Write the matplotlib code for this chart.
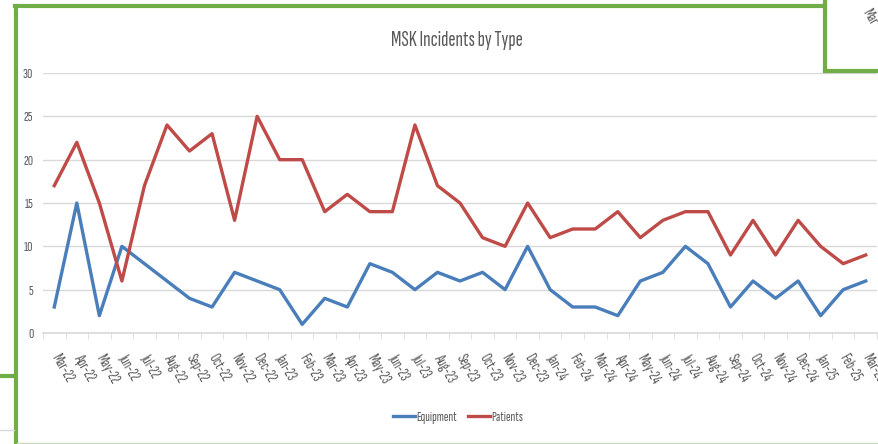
import matplotlib
matplotlib.use("Agg")
from matplotlib import pyplot as plt
from matplotlib.lines import Line2D

plt.rcParams['font.family'] = ['Sofia Sans Extra Condensed', 'Carlito', 'DejaVu Sans']

months = ["Mar-22", "Apr-22", "May-22", "Jun-22", "Jul-22", "Aug-22", "Sep-22",
          "Oct-22", "Nov-22", "Dec-22", "Jan-23", "Feb-23", "Mar-23", "Apr-23",
          "May-23", "Jun-23", "Jul-23", "Aug-23", "Sep-23", "Oct-23", "Nov-23",
          "Dec-23", "Jan-24", "Feb-24", "Mar-24", "Apr-24", "May-24", "Jun-24",
          "Jul-24", "Aug-24", "Sep-24", "Oct-24", "Nov-24", "Dec-24", "Jan-25",
          "Feb-25", "Mar-25"]
equipment = [3, 15, 2, 10, 8, 6, 4, 3, 7, 6, 5, 1, 4, 3, 8, 7, 5, 7, 6, 7, 5,
             10, 5, 3, 3, 2, 6, 7, 10, 8, 3, 6, 4, 6, 2, 5, 6]
patients = [17, 22, 15, 6, 17, 24, 21, 23, 13, 25, 20, 20, 14, 16, 14, 14, 24,
            17, 15, 11, 10, 15, 11, 12, 12, 14, 11, 13, 14, 14, 9, 13, 9, 13,
            10, 8, 9]

W, H = 879, 444
fig = plt.figure(figsize=(W / 100, H / 100), dpi=100)
ax = fig.add_axes([43 / W, 1 - 333 / H, (877 - 43) / W, (333 - 73) / H])

x = list(range(len(months)))
ax.plot(x, equipment, color="#4A7EBB", lw=2.4, label="Equipment", solid_joinstyle="round")
ax.plot(x, patients, color="#BE4B48", lw=2.4, label="Patients", solid_joinstyle="round")

ax.set_xlim(-0.5, len(months) - 0.5)
ax.set_ylim(0, 30)
ax.set_yticks(range(0, 31, 5))
ax.grid(axis="y", color="#D9D9D9", lw=1)
ax.set_axisbelow(True)
for s in ["top", "right", "left"]:
    ax.spines[s].set_visible(False)
ax.spines["bottom"].set_color("#D9D9D9")
ax.spines["bottom"].set_linewidth(1.2)

ax.set_xticks(x)
ax.set_xticklabels(months, rotation=-60, ha="left", va="center", rotation_mode="anchor",
                   fontsize=11, color="#595959")
ax.tick_params(axis="x", length=0, pad=16)
ax.set_xticks([i - 0.5 for i in range(len(months) + 1)], minor=True)
ax.tick_params(axis="x", which="minor", length=4, color="#D9D9D9")
ax.tick_params(axis="y", length=0, labelsize=10.5, labelcolor="#595959", pad=7)

fig.text(457 / W, 1 - 40 / H, "MSK Incidents by Type", ha="center", va="center",
         fontsize=15.5, color="#595959")

leg = fig.legend(loc="center", bbox_to_anchor=(458 / W, 1 - 417 / H), ncol=2,
                 frameon=False, fontsize=10, handlelength=1.6, handletextpad=0.1,
                 columnspacing=0.8)
for t in leg.get_texts():
    t.set_color("#595959")

# green frame around the chart and the neighbouring one
green = "#70AD47"
def fline(xs, ys, **kw):
    fig.add_artist(Line2D([v / W for v in xs], [1 - v / H for v in ys],
                          transform=fig.transFigure, **kw))

fline([16, 16], [6, 444], color=green, lw=3)
fline([15, 825], [6, 6], color=green, lw=3)
fline([825, 825], [0, 71], color=green, lw=3)
fline([825, 879], [71, 71], color=green, lw=3)
fline([0, 15], [376, 376], color=green, lw=3)
fline([0, 14], [430, 430], color="#D9D9D9", lw=1)
fline([17, 879], [443, 443], color="#C9D9BF", lw=1)
fig.text(866 / W, 1 - 10 / H, "Mar", rotation=-60, ha="left", va="center",
         fontsize=11, color="#595959", rotation_mode="anchor")

fig.savefig("out.png", dpi=100)
